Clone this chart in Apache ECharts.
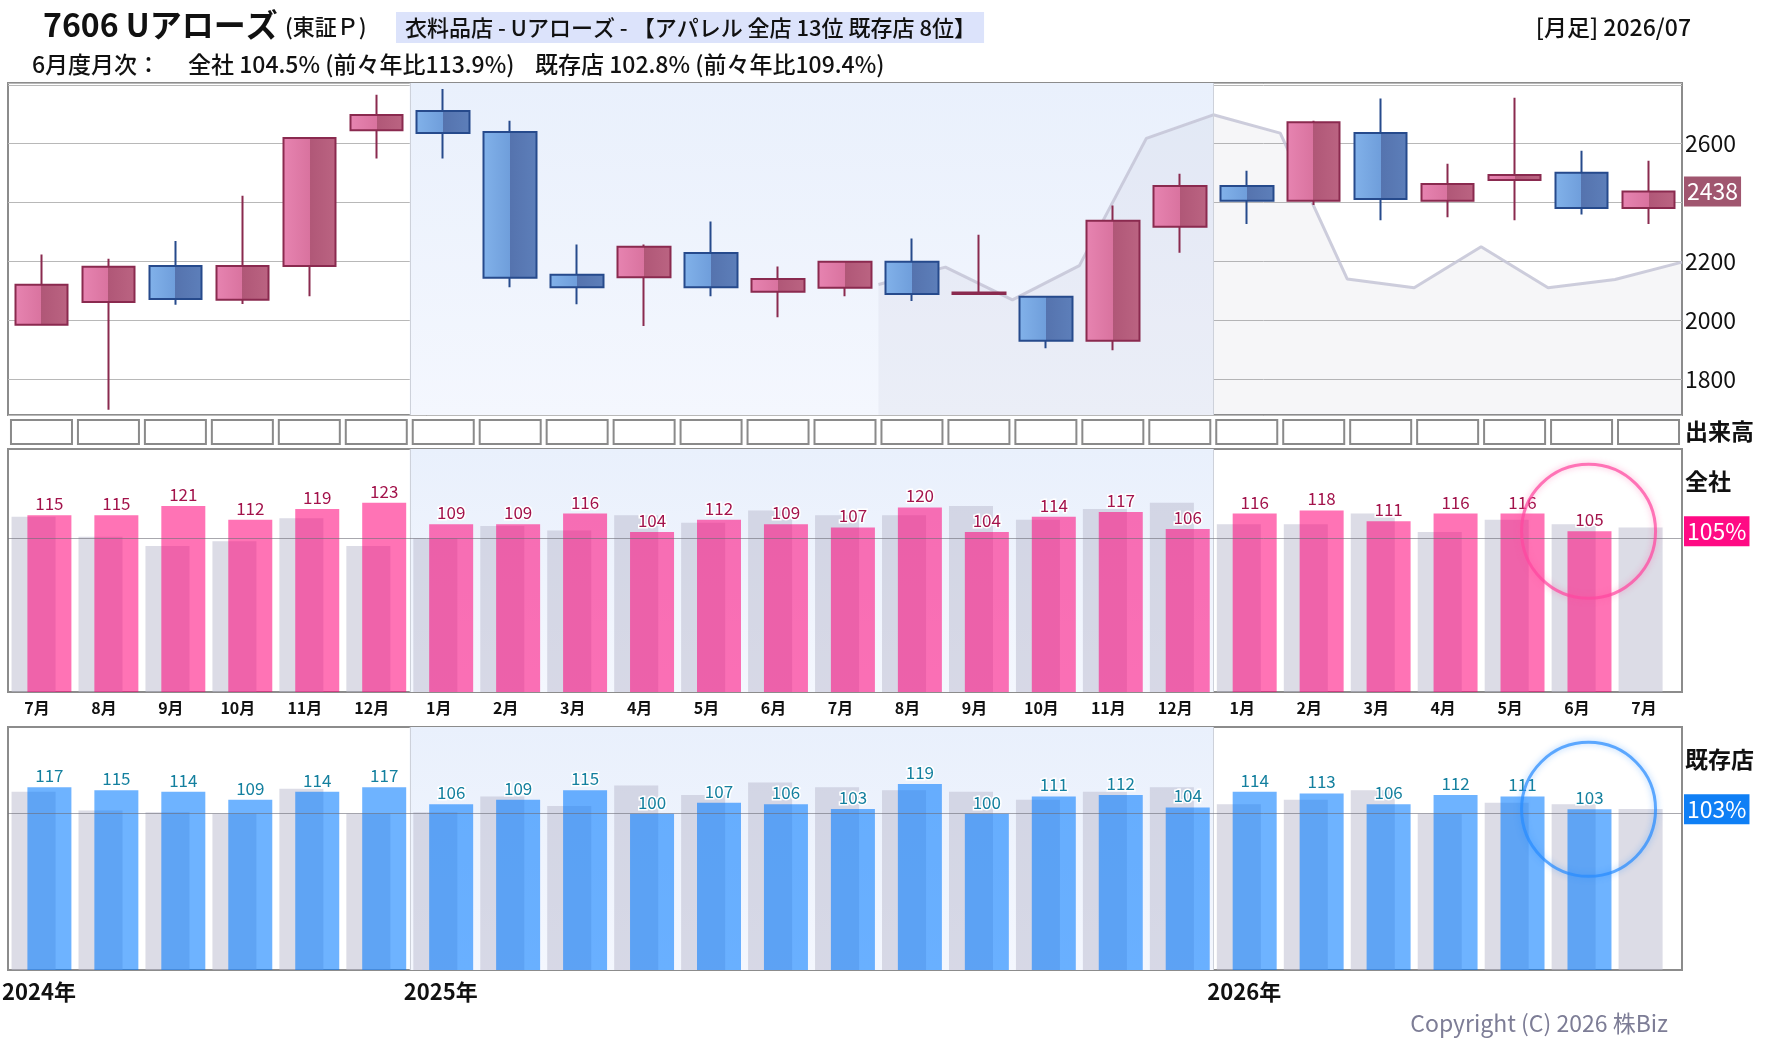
<!DOCTYPE html>
<html>
<head>
<meta charset="utf-8">
<title>7606 Uアローズ 月次</title>
<script src="https://cdn.jsdelivr.net/npm/echarts@6/dist/echarts.min.js"></script>
<style>
    html, body { margin: 0; padding: 0; background: #fff; }
    #chart { width: 1780px; height: 1054px; }
</style>
</head>
<body>
<div id="chart"></div>
<script type="text/javascript">
// 月足 2024/07 - 2026/07
var months = ['7月','8月','9月','10月','11月','12月','1月','2月','3月','4月','5月','6月',
              '7月','8月','9月','10月','11月','12月','1月','2月','3月','4月','5月','6月','7月'];
// 月の境目(26本)ごとの年ラベル
var yearTicks = ['2024年','','','','','','2025年','','','','','','','','','','','',
                 '2026年','','','','','','',''];

// 株価 (始値・終値・安値・高値)
var priceOpen  = [1985,2063,2185,2070,2185,2646,2711,2640,2155,2147,2229,2097,2111,2199,2090,2080,1931,2318,2456,2406,2636,2406,2477,2501,2382];
var priceClose = [2121,2182,2073,2185,2619,2697,2636,2145,2113,2250,2113,2141,2199,2090,2095,1931,2338,2456,2406,2673,2412,2463,2494,2382,2438];
var priceLow   = [1983,1697,2053,2056,2082,2550,2550,2113,2055,1981,2082,2011,2082,2066,2086,1906,1899,2230,2327,2392,2340,2350,2340,2360,2327];
var priceHigh  = [2224,2209,2270,2423,2623,2766,2786,2678,2258,2258,2336,2183,2203,2278,2291,2084,2390,2498,2508,2678,2753,2532,2756,2576,2542];
// 比較ライン (境目ごと)
var refLine = [null,null,null,null,null,null,null,null,null,null,null,null,null,
               2122,2181,2070,2186,2618,2698,2636,2141,2111,2250,2111,2139,2198];
// 出来高 (空欄)
var volBox = [1,1,1,1,1,1,1,1,1,1,1,1,1,1,1,1,1,1,1,1,1,1,1,1,1];

// 月次 全社 / 既存店 (%) と前年同月
var zenshaRate = [115,115,121,112,119,123,109,109,116,104,112,109,107,120,104,114,117,106,116,118,111,116,116,104.5,null];
var zenshaPrev = [114,101,95,98,113,95,100,108,105,115,110,118,115,115,121,112,119,123,109,109,116,104,112,109,107];
var kizonRate  = [117,115,114,109,114,117,106,109,115,100,107,106,103,119,100,111,112,104,114,113,106,112,111,102.8,null];
var kizonPrev  = [114,102,101,100,116,100,101,111,105,118,112,120,117,115,114,109,114,117,106,109,115,100,107,106,103];

var FONT = '"Noto Sans CJK JP", "Noto Sans", sans-serif';
var last = 23;      // 最新月(6月)
var yearStarts = [];
yearTicks.forEach(function (t, i) { if (t && i > 0) yearStarts.push(i); });

var candleData = months.map(function (m, i) {
    return [priceOpen[i], priceClose[i], priceLow[i], priceHigh[i]];
});

function hGrad(a, b, c, d) {
    return { type: 'linear', x: 0, y: 0, x2: 1, y2: 0, colorStops: [
        { offset: 0, color: a }, { offset: 0.5, color: b },
        { offset: 0.5, color: c }, { offset: 1, color: d }] };
}
var bandColor = { type: 'linear', x: 0, y: 0, x2: 0, y2: 1, colorStops: [
    { offset: 0, color: '#e9f0fc' }, { offset: 1, color: '#f4f7fe' }] };

// 2025年の背景帯と年の区切り線
function yearBand(xi, yi) {
    return {
        type: 'line', xAxisIndex: xi, yAxisIndex: yi, data: [], silent: true, z: 0,
        markArea: { silent: true, itemStyle: { color: bandColor },
            data: [[{ xAxis: yearStarts[0] }, { xAxis: yearStarts[1] }]] },
        markLine: { silent: true, symbol: 'none', label: { show: false },
            lineStyle: { color: '#cdd1da', width: 1, type: 'solid' },
            data: yearStarts.map(function (s) { return { xAxis: s }; }) }
    };
}

// 右端の値バッジ
function badge(v, text, bg) {
    return { yAxis: v, lineStyle: { color: 'rgba(0,0,0,0)', width: 0 },
        label: { show: true, position: 'end', distance: 2, formatter: text,
            color: '#fff', backgroundColor: bg, padding: [4, 3, 3, 3],
            fontSize: 23, fontFamily: FONT } };
}

function rateLabel(color) {
    return { show: true, position: 'top', distance: 3, fontSize: 17, fontFamily: FONT,
        color: color, textBorderColor: '#fff', textBorderWidth: 3,
        formatter: function (p) { return p.value == null ? '' : Math.round(p.value); } };
}

var txt = function (size, weight, color) {
    return { fontSize: size, fontWeight: weight || 'normal', color: color || '#111', fontFamily: FONT };
};

var grids = [
    { left: 8, right: 98, top: 83, height: 332 },
    { left: 8, right: 98, top: 419, height: 26 },
    { left: 8, right: 98, top: 449, height: 243 },
    { left: 8, right: 98, top: 727, height: 243 }
];
grids.forEach(function (g, i) {
    g.show = i !== 1;
    g.borderColor = '#8c8c8c';
    g.borderWidth = 2;
    g.backgroundColor = 'transparent';
    g.containLabel = false;
    g.outerBoundsMode = 'none';
});

function catAxis(gi, data, boundary) {
    return { type: 'category', gridIndex: gi, data: data, boundaryGap: !boundary, position: 'bottom',
        axisLine: { show: false }, axisTick: { show: false }, axisLabel: { show: false },
        splitLine: { show: false } };
}

var monthAxis = catAxis(2, months, false);
monthAxis.axisLabel = { show: true, interval: 0, margin: 8, fontSize: 16, fontWeight: 'bold',
    color: '#111', fontFamily: FONT, padding: [0, 9, 0, 0] };
var yearAxis = catAxis(3, yearTicks, true);
yearAxis.axisLabel = { show: true, interval: 0, margin: 11, align: 'left', fontSize: 22,
    fontWeight: 'bold', color: '#111', fontFamily: FONT, padding: [0, 0, 0, -6] };

var option = {
    animation: false,
    backgroundColor: '#fff',
    textStyle: { fontFamily: FONT },
    title: [
        { text: '7606 Uアローズ', left: 43, top: 9, padding: 0, textStyle: txt(32, 'bold') },
        { text: '(東証Ｐ)', left: 285, top: 16, padding: 0, textStyle: txt(22, 500) },
        { text: '衣料品店 - Uアローズ - 【アパレル 全店 13位 既存店 8位】', left: 396, top: 12,
          backgroundColor: '#dce3fb', padding: [5, 8, 4, 9], textStyle: txt(22, 500) },
        { text: '[月足] 2026/07', right: 89, top: 16, padding: 0, textStyle: txt(23, 500) },
        { text: '6月度月次：', left: 32, top: 53, padding: 0, textStyle: txt(23, 500) },
        { text: '全社 104.5% (前々年比113.9%)', left: 188, top: 53, padding: 0, textStyle: txt(23, 500) },
        { text: '既存店 102.8% (前々年比109.4%)', left: 535, top: 53, padding: 0, textStyle: txt(23, 500) },
        { text: '出来高', left: 1685, top: 420, padding: 0, textStyle: txt(23, 'bold') },
        { text: '全社', left: 1685, top: 470, padding: 0, textStyle: txt(23, 'bold') },
        { text: '既存店', left: 1685, top: 748, padding: 0, textStyle: txt(23, 'bold') },
        { text: 'Copyright (C) 2026 株Biz', right: 112, top: 1012, padding: 0, textStyle: txt(23, 'normal', '#7d7d96') }
    ],
    grid: grids,
    xAxis: [
        catAxis(0, months, false),
        catAxis(0, yearTicks, true),
        catAxis(1, months, false),
        monthAxis,
        catAxis(2, yearTicks, true),
        catAxis(3, months, false),
        yearAxis
    ],
    yAxis: [
        { type: 'value', gridIndex: 0, position: 'right', min: 1679, max: 2806, z: 1,
          axisLine: { show: false }, axisTick: { show: false },
          splitLine: { lineStyle: { color: '#b8b8b8', width: 1 } },
          axisLabel: { margin: 3, fontSize: 23, color: '#111', fontFamily: FONT,
              showMinLabel: false, showMaxLabel: false,
              formatter: function (v) { return (v === 2400 || v >= 2800) ? '' : v; } } },
        { type: 'value', gridIndex: 1, min: 0, max: 1, show: false },
        { type: 'value', gridIndex: 2, min: 0, max: 158, show: false },
        { type: 'value', gridIndex: 3, min: 0, max: 155.5, show: false }
    ],
    series: [
        yearBand(1, 0),
        { type: 'line', xAxisIndex: 1, yAxisIndex: 0, data: refLine, z: 2, silent: true,
          symbol: 'none', lineStyle: { color: 'rgba(196,196,214,0.85)', width: 3 },
          areaStyle: { color: 'rgba(125,125,160,0.1)', origin: 'start' } },
        { type: 'candlestick', xAxisIndex: 0, yAxisIndex: 0, data: candleData, z: 3, silent: true,
          barWidth: 53, barMaxWidth: 60,
          itemStyle: {
              color: hGrad('#e784b1', '#d9739f', '#b05777', '#bb6482'),
              color0: hGrad('#82b2ea', '#6f9edb', '#5573ae', '#5d7fba'),
              borderColor: '#8a2a4f', borderColor0: '#264a8c', borderWidth: 2 },
          markLine: { silent: true, symbol: 'none',
              data: [badge(priceClose[24], String(priceClose[24]), '#a0566f')] } },

        { type: 'bar', xAxisIndex: 2, yAxisIndex: 1, data: volBox, barWidth: 63, silent: true,
          itemStyle: { color: '#fff', borderColor: '#8a8a8a', borderWidth: 2 } },

        yearBand(4, 2),
        { type: 'bar', xAxisIndex: 3, yAxisIndex: 2, data: zenshaPrev, barWidth: 44, barGap: '-64%',
          silent: true, itemStyle: { color: 'rgba(185,185,205,0.5)' } },
        { type: 'bar', xAxisIndex: 3, yAxisIndex: 2, data: zenshaRate, barWidth: 44, barGap: '-64%',
          silent: true, itemStyle: { color: 'rgba(255,0,120,0.55)' }, label: rateLabel('#a3134b'),
          markLine: { silent: true, symbol: 'none',
              data: [{ yAxis: 100, label: { show: false },
                       lineStyle: { color: 'rgba(110,110,120,0.6)', width: 1, type: 'solid' } },
                     badge(zenshaRate[last], Math.round(zenshaRate[last]) + '%', '#ff0a84')] } },
        { type: 'scatter', xAxisIndex: 3, yAxisIndex: 2, data: [[last, zenshaRate[last]]], z: 5,
          silent: true, symbol: 'circle', symbolSize: 134, symbolOffset: [7, 0],
          itemStyle: { color: 'rgba(255,255,255,0)', borderColor: 'rgba(255,70,160,0.9)', borderWidth: 3,
              shadowBlur: 6, shadowColor: 'rgba(255,80,160,0.6)' } },

        yearBand(6, 3),
        { type: 'bar', xAxisIndex: 5, yAxisIndex: 3, data: kizonPrev, barWidth: 44, barGap: '-64%',
          silent: true, itemStyle: { color: 'rgba(185,185,205,0.5)' } },
        { type: 'bar', xAxisIndex: 5, yAxisIndex: 3, data: kizonRate, barWidth: 44, barGap: '-64%',
          silent: true, itemStyle: { color: 'rgba(0,122,255,0.57)' }, label: rateLabel('#14809f'),
          markLine: { silent: true, symbol: 'none',
              data: [{ yAxis: 100, label: { show: false },
                       lineStyle: { color: 'rgba(110,110,120,0.6)', width: 1, type: 'solid' } },
                     badge(kizonRate[last], Math.round(kizonRate[last]) + '%', '#0f7ff5')] } },
        { type: 'scatter', xAxisIndex: 5, yAxisIndex: 3, data: [[last, kizonRate[last]]], z: 5,
          silent: true, symbol: 'circle', symbolSize: 134, symbolOffset: [7, 0],
          itemStyle: { color: 'rgba(255,255,255,0)', borderColor: 'rgba(40,140,255,0.9)', borderWidth: 3,
              shadowBlur: 6, shadowColor: 'rgba(40,140,255,0.6)' } }
    ]
};

var chart = echarts.init(document.getElementById('chart'));
chart.setOption(option);
</script>
</body>
</html>
